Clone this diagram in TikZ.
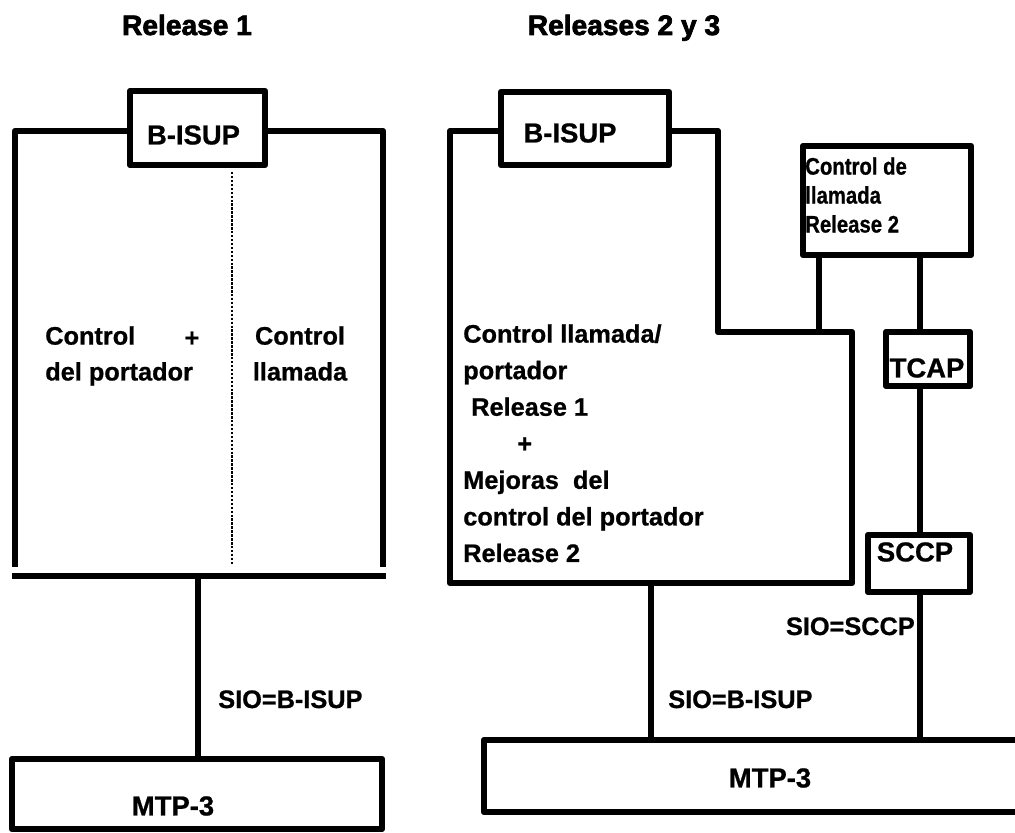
\documentclass[tikz,border=0pt]{standalone}
\usepackage{fontspec}
\setmainfont{Liberation Sans}[BoldFeatures={FakeBold=0.8}]
\newfontfamily\titulofont{Liberation Sans}[BoldFeatures={FakeBold=2.5}]
\newfontfamily\estrecha{Liberation Sans}[FakeStretch=0.85, BoldFeatures={FakeBold=0.8}]
\usetikzlibrary{calc}

\tikzset{
  caja/.style={draw, line width=4.5pt, line join=round, fill=white, inner sep=0pt},
  linea/.style={line width=4.5pt, line join=round},
  rotulo/.style={inner sep=0pt, font=\fontsize{19.5}{23}\selectfont\bfseries},
  texto/.style={inner sep=0pt, align=left, font=\fontsize{18}{25.5}\selectfont\bfseries},
  titulo/.style={inner sep=0pt, font=\titulofont\fontsize{20}{24}\selectfont\bfseries},
}

\begin{document}
\begin{tikzpicture}[x=0.025cm, y=-0.025cm]
	\useasboundingbox (0,0) rectangle (1015,833);
	% 1. Titulos
	\node[titulo, anchor=base] (tituloA) at (187,35) {Release 1};
	\node[titulo, anchor=base] (tituloB) at (624,35) {Releases 2 y 3};
	
	% 2. Release 1: bloque B-ISUP
	\draw[linea] (15,567) -- (15,131) -- (383,131) -- (383,567);
	\draw[linea] (12,576) -- (386,576);
	\draw[line width=1.7pt, dash pattern=on 1.7pt off 1.1pt] (232,172) -- (232,565);
	\node[caja, minimum width=3.375cm, minimum height=1.85cm] (bisupA) at (197.5,128) {};
	\node[rotulo] (bisupAtxt) at ($(bisupA)+(-4,7)$) {B-ISUP};
	\node[texto, anchor=north west] (portA) at (45,326) {Control\\del portador};
	\node[texto] (masA) at (192,339) {+};
	\node[texto, anchor=north, align=center] (llamA) at (300,326) {Control\\llamada};
	
	% MTP-3 y enlace
	\coordinate (baseA) at (198,576);
	\node[caja, minimum width=9.25cm, minimum height=1.75cm] (mtpA) at (197,794) {};
	\node[rotulo] (mtpAtxt) at (173,806) {MTP-3};
	\draw[linea] (baseA) -- (baseA |- mtpA.north);
	\node[texto, anchor=base west] (sioA) at (218,708) {SIO=B-ISUP};
	
	% 3. Releases 2 y 3: bloque escalonado
	\draw[linea] (450,131) -- (450,583) -- (852,583) -- (852,332) -- (718,332) -- (718,131) -- cycle;
	\node[caja, minimum width=4.2cm, minimum height=1.825cm] (bisupB) at (585,128.5) {};
	\node[rotulo] (bisupBtxt) at (570,133) {B-ISUP};
	\node[texto, anchor=north west, font=\fontsize{18}{26}\selectfont\bfseries] (portB) at (463,324)
		{Control llamada/\\portador\\\hspace*{0.2cm}Release 1\\\hspace*{1.35cm}+\\Mejoras\ \ del\\control del portador\\Release 2};
	
	% Control de llamada, TCAP, SCCP
	\node[caja, minimum width=4.2cm, minimum height=2.725cm] (llamR2) at (887,200.5) {};
	\node[texto, anchor=north west, font=\estrecha\fontsize{17}{20.6}\selectfont\bfseries] (llamR2txt) at (805,157) {Control de\\llamada\\Release 2};
	\node[caja, minimum width=2.1cm, minimum height=1.35cm] (tcap) at (928,359) {};
	\node[rotulo] (tcaptxt) at (927,368) {TCAP};
	\node[caja, minimum width=2.55cm, minimum height=1.425cm] (sccp) at (919,563.5) {};
	\node[rotulo] (sccptxt) at (915,552) {SCCP};
	\node[caja, minimum width=13.9cm, minimum height=1.8cm] (mtpB) at (762,776) {};
	\node[rotulo] (mtpBtxt) at (770,778) {MTP-3};
	
	% 4. Enlaces verticales
	\coordinate (escB) at (819,332);
	\coordinate (ejeS) at (920,0);
	\coordinate (baseB) at (651,583);
	\draw[linea] (escB |- llamR2.south) -- (escB);
	\draw[linea] (ejeS |- llamR2.south) -- (ejeS |- tcap.north);
	\draw[linea] (ejeS |- tcap.south) -- (ejeS |- sccp.north);
	\draw[linea] (ejeS |- sccp.south) -- (ejeS |- mtpB.north);
	\draw[linea] (baseB) -- (baseB |- mtpB.north);
	\node[texto, anchor=base east] (sioS) at (915,635) {SIO=SCCP};
	\node[texto, anchor=base west] (sioB) at (668,708) {SIO=B-ISUP};
\end{tikzpicture}
\end{document}
